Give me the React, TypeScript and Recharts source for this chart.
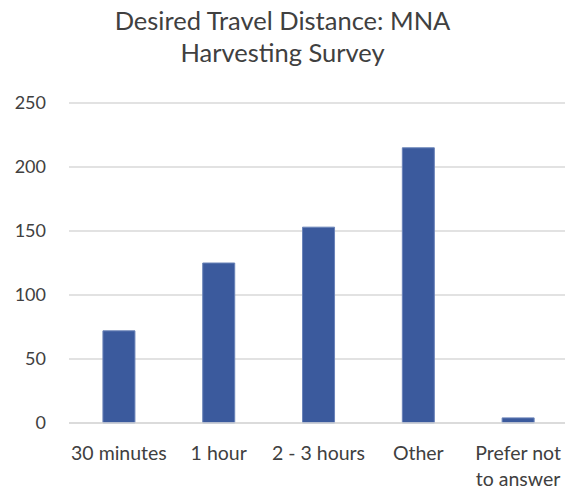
import { BarChart, Bar, XAxis, YAxis, CartesianGrid } from 'recharts'

const categories = ['30 minutes', '1 hour', '2 - 3 hours', 'Other', 'Prefer not to answer']
const responses = [72, 125, 153, 215, 4]
const yTicks = [0, 50, 100, 150, 200, 250]

const data = categories.map((name, i) => ({ name, value: responses[i] }))

const FONT = 'Lato, "Open Sans", sans-serif'
const TEXT = '#404040'

function wrap(label: string, max = 11) {
  const lines: string[] = []
  let cur = ''
  for (const w of label.split(' ')) {
    const next = cur ? `${cur} ${w}` : w
    if (next.length > max && cur) {
      lines.push(cur)
      cur = w
    } else {
      cur = next
    }
  }
  if (cur) lines.push(cur)
  return lines
}

function CategoryTick(props: any) {
  const { x, y, payload } = props
  const lines = wrap(payload.value)
  return (
    <text x={x} y={y} textAnchor="middle" fill={TEXT} fontSize={19.5} fontFamily={FONT}>
      {lines.map((line, i) => (
        <tspan key={i} x={x} dy={i === 0 ? 37 : 26}>
          {line}
        </tspan>
      ))}
    </text>
  )
}

export default function App() {
  return (
    <div style={{ position: 'absolute', left: 0, top: 0, width: 565, height: 489, background: '#fff' }}>
      <svg width={565} height={75} style={{ position: 'absolute', left: 0, top: 0 }}>
        <text x={282.5} y={29.5} textAnchor="middle" fill={TEXT} fontSize={25.5} fontFamily={FONT}>
          Desired Travel Distance: MNA
        </text>
        <text x={282.5} y={62} textAnchor="middle" fill={TEXT} fontSize={25.5} fontFamily={FONT}>
          Harvesting Survey
        </text>
      </svg>
      <BarChart
        width={565}
        height={489}
        data={data}
        margin={{ top: 103, right: -3, left: 0, bottom: 0 }}
        barCategoryGap="34%"
      >
        <CartesianGrid vertical={false} stroke="#d9d9d9" strokeWidth={1.5} />
        <XAxis
          dataKey="name"
          height={66}
          axisLine={{ stroke: '#d9d9d9', strokeWidth: 1.5 }}
          tickLine={false}
          tickSize={0}
          tickMargin={0}
          interval={0}
          tick={<CategoryTick />}
        />
        <YAxis
          width={69}
          domain={[0, 250]}
          ticks={yTicks}
          axisLine={false}
          tickLine={false}
          tickSize={0}
          tickMargin={23}
          tick={{ fontSize: 18, fill: TEXT, fontFamily: FONT }}
        />
        <Bar dataKey="value" fill="#3b5a9d" stroke="#6a83b8" strokeWidth={1} isAnimationActive={false} />
      </BarChart>
    </div>
  )
}
